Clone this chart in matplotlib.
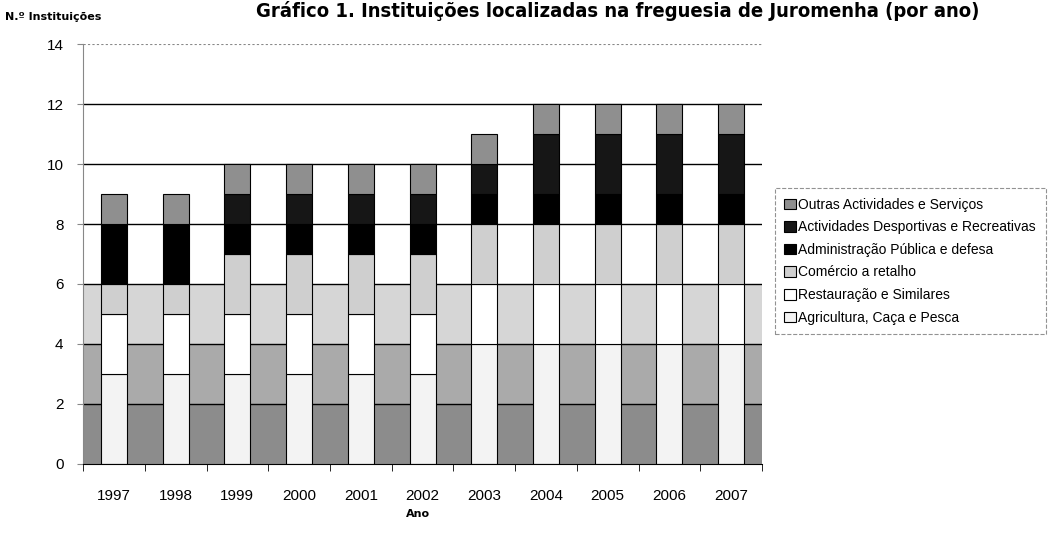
import numpy as np
import matplotlib
matplotlib.use("Agg")
from matplotlib import pyplot as plt

# Data (stack order: bottom to top)
years = ['1997', '1998', '1999', '2000', '2001', '2002', '2003', '2004', '2005', '2006', '2007']
agricultura = [3, 3, 3, 3, 3, 3, 4, 4, 4, 4, 4]
restauracao = [2, 2, 2, 2, 2, 2, 2, 2, 2, 2, 2]
comercio = [1, 1, 2, 2, 2, 2, 2, 2, 2, 2, 2]
administracao = [2, 2, 1, 1, 1, 1, 1, 1, 1, 1, 1]
desportivas = [0, 0, 1, 1, 1, 1, 1, 2, 2, 2, 2]
outras = [1, 1, 1, 1, 1, 1, 1, 1, 1, 1, 1]

series = [
    ('Agricultura, Caça e Pesca', agricultura, '#f3f3f3'),
    ('Restauração e Similares', restauracao, '#ffffff'),
    ('Comércio a retalho', comercio, '#cfcfcf'),
    ('Administração Pública e defesa', administracao, '#000000'),
    ('Actividades Desportivas e Recreativas', desportivas, '#161616'),
    ('Outras Actividades e Serviços', outras, '#8f8f8f'),
]

plt.rcParams['font.family'] = ['Liberation Sans', 'DejaVu Sans']

fig = plt.figure(figsize=(10.54, 5.33), dpi=100)
ax = fig.add_axes([0.0788, 0.1295, 0.6442, 0.7879])

x = np.arange(len(years))

# banded plot-area background
ax.axhspan(0, 2, color='#8c8c8c', zorder=0, lw=0)
ax.axhspan(2, 4, color='#aaaaaa', zorder=0, lw=0)
ax.axhspan(4, 6, color='#d6d6d6', zorder=0, lw=0)

# gridlines
for g in range(2, 13, 2):
    ax.axhline(g, color='black', lw=1.0, zorder=1)
ax.axhline(14, color='#888888', lw=0.8, ls=(0, (2, 2)), zorder=1)

bottom = np.zeros(len(years))
handles = []
for label, vals, col in series:
    vals = np.array(vals, dtype=float)
    b = ax.bar(x, vals, width=0.42, bottom=bottom, color=col, edgecolor='black',
               linewidth=0.8, label=label, zorder=2)
    handles.append(b)
    bottom += vals

ax.set_xlim(-0.5, len(years) - 0.5)
ax.set_ylim(0, 14)
ax.set_yticks(range(0, 15, 2))
ax.set_xticks(x)
ax.set_xticklabels(years)
ax.set_xticks(np.arange(-0.5, len(years), 1), minor=True)
ax.tick_params(axis='x', which='major', length=0, pad=18, labelsize=11)
ax.tick_params(axis='x', which='minor', length=5, direction='out', color='black')
ax.tick_params(axis='y', length=4, pad=10, labelsize=11, color='#888888')

for s in ['top', 'right']:
    ax.spines[s].set_visible(False)
ax.spines['left'].set_color('#888888')
ax.spines['bottom'].set_color('black')
ax.spines['bottom'].set_zorder(3)

fig.text(0.005, 1 - 17 / 533, 'N.º Instituições', fontsize=8, fontweight='bold',
         family='DejaVu Sans', va='center', ha='left')
fig.text(0.397, 1 - 514 / 533, 'Ano', fontsize=8, fontweight='bold',
         family='DejaVu Sans', ha='center', va='center')
fig.text(0.586, 1 - 17 / 533,
         'Gráfico 1. Instituições localizadas na freguesia de Juromenha (por ano)',
         fontsize=14.5, fontweight='bold', fontstretch='condensed', family='DejaVu Sans',
         ha='center', va='baseline')

leg = fig.legend(handles=handles[::-1], loc='center left', bbox_to_anchor=(0.735, 0.51),
                 fontsize=10, frameon=True, fancybox=False, handlelength=0.8,
                 handleheight=0.8, handletextpad=0.2, labelspacing=0.62,
                 borderpad=0.7, borderaxespad=0)
leg.get_frame().set_edgecolor('#777777')
leg.get_frame().set_linestyle('--')
leg.get_frame().set_linewidth(0.8)

fig.savefig('out.png', dpi=100)
